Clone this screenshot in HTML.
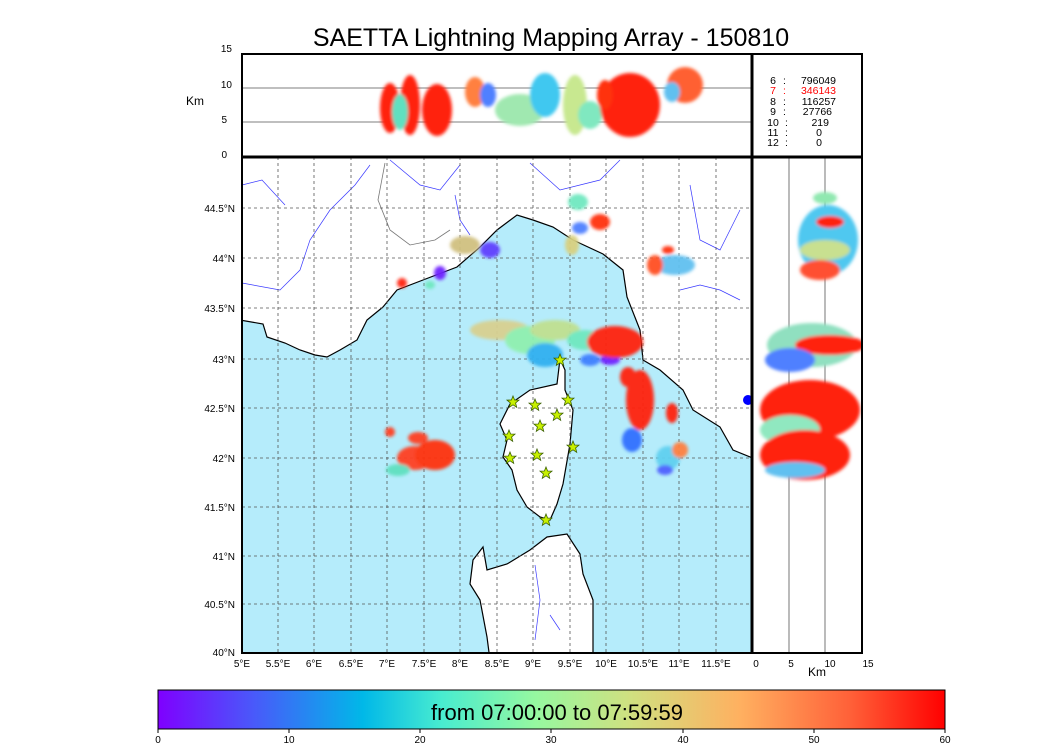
<!DOCTYPE html>
<html><head><meta charset="utf-8"><style>
html,body{margin:0;padding:0;background:#fff;}
svg{display:block;font-family:"Liberation Sans",sans-serif;}
</style></head><body>
<svg width="1050" height="750" viewBox="0 0 1050 750" xmlns="http://www.w3.org/2000/svg">
<defs>
<linearGradient id="rb" x1="0" x2="1" y1="0" y2="0">
<stop offset="0" stop-color="#7f00ff"/>
<stop offset="0.12" stop-color="#4a58fa"/>
<stop offset="0.26" stop-color="#00b8e8"/>
<stop offset="0.36" stop-color="#48ecd0"/>
<stop offset="0.48" stop-color="#96f8a0"/>
<stop offset="0.6" stop-color="#d0e080"/>
<stop offset="0.74" stop-color="#ffb060"/>
<stop offset="0.88" stop-color="#ff6038"/>
<stop offset="1" stop-color="#ff0000"/>
</linearGradient>
<filter id="bl"><feGaussianBlur stdDeviation="1.5"/></filter>
<clipPath id="mc"><rect x="242" y="157" width="510" height="496"/></clipPath>
<clipPath id="tc"><rect x="242" y="54" width="510" height="103"/></clipPath>
<clipPath id="rc"><rect x="752" y="157" width="110" height="496"/></clipPath>
<polygon id="star" points="0,-6 1.6,-2 6,-1.9 2.6,1 3.7,5.3 0,2.8 -3.7,5.3 -2.6,1 -6,-1.9 -1.6,-2" fill="#c8f000" stroke="#3a6000" stroke-width="0.8"/>
</defs>

<text x="551" y="46" font-size="25" text-anchor="middle">SAETTA Lightning Mapping Array - 150810</text>

<!-- MAP -->
<g clip-path="url(#mc)">
<rect x="242" y="157" width="510" height="496" fill="#fff"/>
<path d="M240,320 L263,324 267,337 285,343 300,350 315,355 327,357 340,350 357,340 367,320 383,307 397,290 423,280 457,267 480,247 497,230 517,215 533,220 553,227 573,240 603,254 623,270 627,297 640,330 643,360 660,370 683,390 693,410 720,427 733,450 755,459 755,660 593,660 593,600 583,574 580,554 567,534 547,537 530,550 507,564 487,570 483,547 473,560 470,584 480,600 487,637 490,660 240,660 Z" fill="#b5ecfb" stroke="#000" stroke-width="1.2"/>
<path d="M560,359 L565,370 565,390 573,410 570,444 563,484 557,504 550,520 540,517 527,507 517,490 512,470 503,457 507,440 500,424 510,404 530,390 557,384 Z" fill="#fff" stroke="#000" stroke-width="1.2"/>
<g fill="none" stroke="#3a3aff" stroke-width="0.7">
<path d="M242,185 L262,180 285,205 M242,283 L280,290 300,270 310,240 330,210 355,185 370,165"/>
<path d="M390,160 L420,185 440,190 460,165 M455,195 L460,220 470,235"/>
<path d="M530,163 L560,190 600,180 620,160 M690,185 L700,240 720,250 740,210 M680,290 L700,285 720,290 740,300"/>
<path d="M535,565 L540,600 535,640 M560,630 L550,615"/>
</g>
<path d="M385,163 L378,200 390,230 410,245 435,240 450,230" fill="none" stroke="#777" stroke-width="0.8"/>
<g stroke="#555" stroke-width="0.8" stroke-dasharray="3,3">
<path d="M278,157V653M314,157V653M351,157V653M387,157V653M424,157V653M460,157V653M497,157V653M533,157V653M570,157V653M606,157V653M643,157V653M679,157V653M716,157V653"/>
<path d="M242,208H752M242,258H752M242,308H752M242,359H752M242,408H752M242,458H752M242,507H752M242,556H752M242,604H752"/>
</g>
<g filter="url(#bl)" opacity="0.95">
<ellipse cx="500" cy="330" rx="30" ry="10" fill="#d8d090"/>
<ellipse cx="530" cy="340" rx="25" ry="14" fill="#90f0b0"/>
<ellipse cx="545" cy="355" rx="18" ry="12" fill="#30b0f0"/>
<ellipse cx="555" cy="330" rx="25" ry="10" fill="#c0e090"/>
<ellipse cx="585" cy="340" rx="18" ry="10" fill="#70e8c0"/>
<ellipse cx="590" cy="360" rx="10" ry="6" fill="#4080ff"/>
<ellipse cx="610" cy="360" rx="10" ry="5" fill="#7020ff"/>
<ellipse cx="615" cy="342" rx="28" ry="16" fill="#ff2010"/>
<ellipse cx="640" cy="400" rx="14" ry="30" fill="#ff2010"/>
<ellipse cx="632" cy="440" rx="10" ry="12" fill="#3070ff"/>
<ellipse cx="628" cy="377" rx="8" ry="10" fill="#ff2010"/>
<ellipse cx="672" cy="413" rx="6" ry="10" fill="#ff2010"/>
<ellipse cx="668" cy="458" rx="12" ry="12" fill="#60d0f0"/>
<ellipse cx="680" cy="450" rx="8" ry="8" fill="#ff8040"/>
<ellipse cx="665" cy="470" rx="8" ry="5" fill="#5060ff"/>
<ellipse cx="675" cy="265" rx="20" ry="10" fill="#60c0f0"/>
<ellipse cx="655" cy="265" rx="8" ry="10" fill="#ff5020"/>
<ellipse cx="668" cy="250" rx="6" ry="4" fill="#ff3010"/>
<ellipse cx="600" cy="222" rx="10" ry="8" fill="#ff3010"/>
<ellipse cx="578" cy="202" rx="10" ry="8" fill="#70e8c0"/>
<ellipse cx="580" cy="228" rx="8" ry="6" fill="#5080ff"/>
<ellipse cx="572" cy="245" rx="7" ry="10" fill="#d8d080"/>
<ellipse cx="465" cy="245" rx="15" ry="9" fill="#d0c080"/>
<ellipse cx="490" cy="250" rx="10" ry="8" fill="#6040ff"/>
<ellipse cx="440" cy="273" rx="6" ry="7" fill="#7020ff"/>
<ellipse cx="402" cy="283" rx="5" ry="5" fill="#ff2010"/>
<ellipse cx="430" cy="285" rx="5" ry="4" fill="#70e8c0"/>
<ellipse cx="415" cy="458" rx="18" ry="12" fill="#ff4020"/>
<ellipse cx="435" cy="455" rx="20" ry="15" fill="#ff3010"/>
<ellipse cx="398" cy="470" rx="12" ry="6" fill="#60e0c0"/>
<ellipse cx="418" cy="438" rx="10" ry="6" fill="#ff4020"/>
<ellipse cx="390" cy="432" rx="5" ry="5" fill="#ff4020"/>
</g>
<circle cx="748" cy="400" r="5" fill="#0000ff"/>
<g>
<use href="#star" x="513" y="402"/><use href="#star" x="535" y="405"/><use href="#star" x="568" y="400"/>
<use href="#star" x="557" y="415"/><use href="#star" x="540" y="426"/><use href="#star" x="509" y="436"/>
<use href="#star" x="573" y="447"/><use href="#star" x="537" y="455"/><use href="#star" x="510" y="458"/>
<use href="#star" x="546" y="473"/><use href="#star" x="546" y="520"/><use href="#star" x="560" y="360"/>
</g>
</g>

<!-- TOP PANEL -->
<rect x="242" y="54" width="510" height="103" fill="#fff"/>
<g stroke="#555" stroke-width="0.8"><path d="M242,88H752M242,122H752"/></g>
<g clip-path="url(#tc)" filter="url(#bl)">
<ellipse cx="390" cy="108" rx="10" ry="25" fill="#ff2010"/>
<ellipse cx="410" cy="105" rx="10" ry="30" fill="#ff2010"/>
<ellipse cx="400" cy="112" rx="8" ry="18" fill="#60e0c0"/>
<ellipse cx="437" cy="110" rx="15" ry="26" fill="#ff2010"/>
<ellipse cx="475" cy="92" rx="10" ry="15" fill="#ff8040"/>
<ellipse cx="488" cy="95" rx="8" ry="12" fill="#5080ff"/>
<ellipse cx="520" cy="110" rx="25" ry="16" fill="#a0e8b0"/>
<ellipse cx="545" cy="95" rx="15" ry="22" fill="#40c8f0"/>
<ellipse cx="575" cy="105" rx="12" ry="30" fill="#c8e890"/>
<ellipse cx="590" cy="115" rx="12" ry="14" fill="#80e8c0"/>
<ellipse cx="630" cy="105" rx="30" ry="32" fill="#ff2010"/>
<ellipse cx="605" cy="95" rx="8" ry="15" fill="#ff3010"/>
<ellipse cx="685" cy="85" rx="18" ry="18" fill="#ff6030"/>
<ellipse cx="672" cy="92" rx="8" ry="10" fill="#60c0f0"/>
</g>
<rect x="752" y="54" width="110" height="103" fill="#fff"/>
<g font-size="10.5" fill="#000">
<text x="773" y="84" text-anchor="middle">6</text><text x="783" y="84">:</text><text x="836" y="84" text-anchor="end">796049</text>
<text x="773" y="94" text-anchor="middle" fill="#f00">7</text><text x="783" y="94" fill="#f00">:</text><text x="836" y="94" text-anchor="end" fill="#f00">346143</text>
<text x="773" y="105" text-anchor="middle">8</text><text x="783" y="105">:</text><text x="836" y="105" text-anchor="end">116257</text>
<text x="773" y="115" text-anchor="middle">9</text><text x="783" y="115">:</text><text x="832" y="115" text-anchor="end">27766</text>
<text x="773" y="126" text-anchor="middle">10</text><text x="785" y="126">:</text><text x="829" y="126" text-anchor="end">219</text>
<text x="773" y="136" text-anchor="middle">11</text><text x="785" y="136">:</text><text x="822" y="136" text-anchor="end">0</text>
<text x="773" y="146" text-anchor="middle">12</text><text x="785" y="146">:</text><text x="822" y="146" text-anchor="end">0</text>
</g>

<!-- RIGHT PANEL -->
<rect x="752" y="157" width="110" height="496" fill="#fff"/>
<g stroke="#555" stroke-width="0.8"><path d="M789,157V653M825,157V653"/></g>
<g clip-path="url(#rc)" filter="url(#bl)">
<ellipse cx="825" cy="198" rx="12" ry="6" fill="#90e8b0"/>
<ellipse cx="828" cy="240" rx="30" ry="35" fill="#50c8f0"/>
<ellipse cx="830" cy="222" rx="14" ry="6" fill="#ff2010"/>
<ellipse cx="825" cy="250" rx="25" ry="10" fill="#c8e090"/>
<ellipse cx="820" cy="270" rx="20" ry="10" fill="#ff5030"/>
<ellipse cx="812" cy="345" rx="45" ry="22" fill="#90e0c0"/>
<ellipse cx="830" cy="345" rx="35" ry="10" fill="#ff2010"/>
<ellipse cx="790" cy="360" rx="25" ry="12" fill="#5080ff"/>
<ellipse cx="810" cy="410" rx="50" ry="30" fill="#ff2010"/>
<ellipse cx="790" cy="430" rx="30" ry="15" fill="#90e8c0"/>
<ellipse cx="805" cy="455" rx="45" ry="25" fill="#ff2010"/>
<ellipse cx="795" cy="470" rx="30" ry="8" fill="#60c0f0"/>
</g>

<g fill="none" stroke="#000">
<rect x="242" y="54" width="620" height="599" stroke-width="2"/>
<path d="M752,54V653M242,157H862" stroke-width="3"/>
</g>

<g font-size="10" fill="#000">
<text x="232" y="52" text-anchor="end">15</text><text x="232" y="88" text-anchor="end">10</text>
<text x="227" y="123" text-anchor="end">5</text><text x="227" y="158" text-anchor="end">0</text>
<text x="186" y="105" font-size="12">Km</text>
<g text-anchor="end">
<text x="235" y="212">44.5°N</text><text x="235" y="262">44°N</text><text x="235" y="312">43.5°N</text>
<text x="235" y="363">43°N</text><text x="235" y="412">42.5°N</text><text x="235" y="462">42°N</text>
<text x="235" y="511">41.5°N</text><text x="235" y="560">41°N</text><text x="235" y="608">40.5°N</text>
<text x="235" y="656">40°N</text>
</g>
<g text-anchor="middle">
<text x="242" y="667">5°E</text><text x="278" y="667">5.5°E</text><text x="314" y="667">6°E</text>
<text x="351" y="667">6.5°E</text><text x="387" y="667">7°E</text><text x="424" y="667">7.5°E</text>
<text x="460" y="667">8°E</text><text x="497" y="667">8.5°E</text><text x="533" y="667">9°E</text>
<text x="570" y="667">9.5°E</text><text x="606" y="667">10°E</text><text x="643" y="667">10.5°E</text>
<text x="679" y="667">11°E</text><text x="716" y="667">11.5°E</text>
<text x="756" y="667">0</text><text x="791" y="667">5</text><text x="830" y="667">10</text><text x="868" y="667">15</text>
</g>
<text x="817" y="676" font-size="12" text-anchor="middle">Km</text>
</g>

<rect x="158" y="690" width="787" height="39" fill="url(#rb)" stroke="#000" stroke-width="1"/>
<text x="557" y="720" font-size="22" text-anchor="middle">from 07:00:00 to 07:59:59</text>
<g font-size="10" text-anchor="middle">
<path d="M158,729v4M289,729v4M420,729v4M551,729v4M683,729v4M814,729v4M945,729v4" stroke="#000"/>
<text x="158" y="743">0</text><text x="289" y="743">10</text><text x="420" y="743">20</text>
<text x="551" y="743">30</text><text x="683" y="743">40</text><text x="814" y="743">50</text><text x="945" y="743">60</text>
</g>
</svg>
</body></html>
